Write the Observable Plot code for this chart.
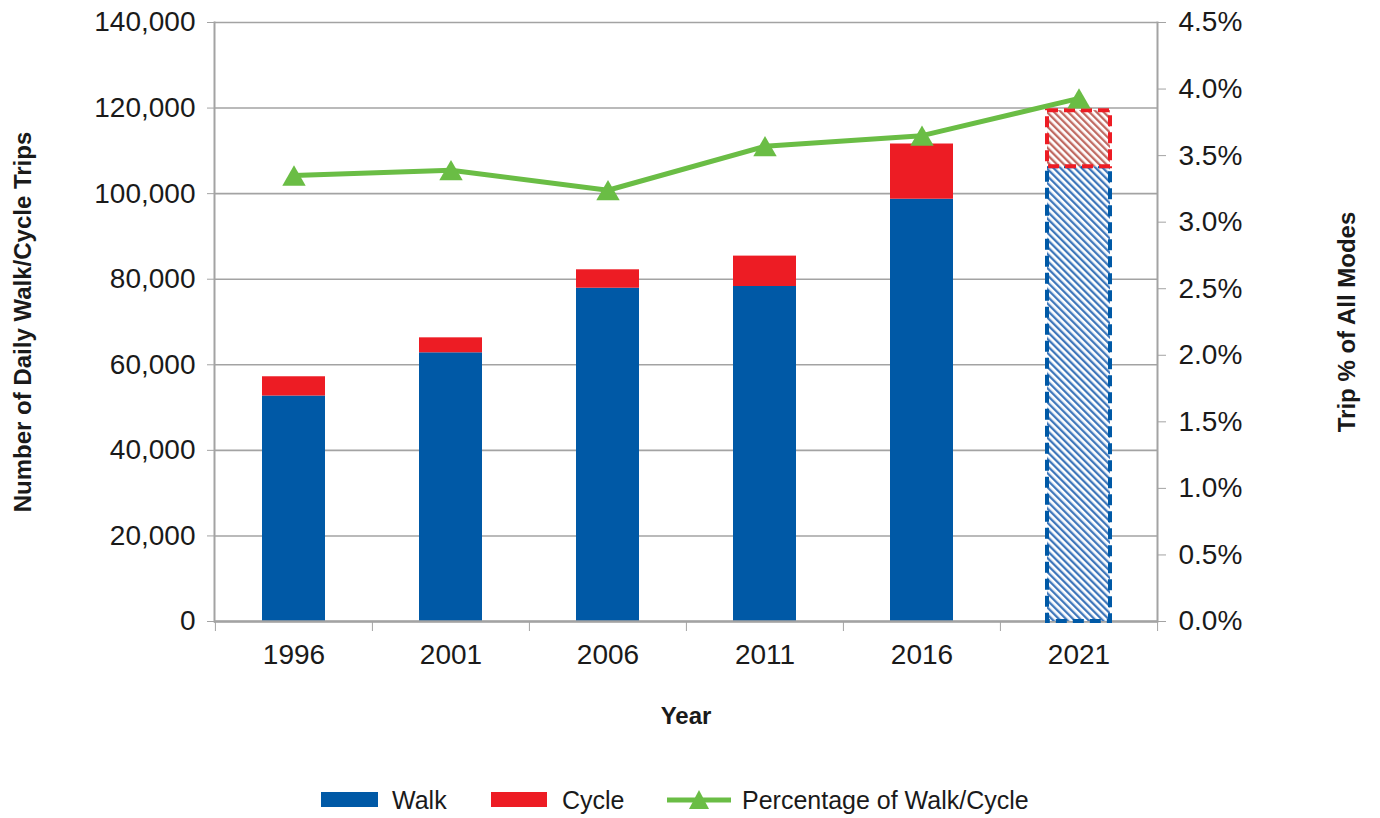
<!DOCTYPE html>
<html>
<head>
<meta charset="utf-8">
<script src="https://cdn.jsdelivr.net/npm/d3@7"></script>
<script src="https://cdn.jsdelivr.net/npm/@observablehq/plot@0.6"></script>
<style>
  body { margin: 0; background: #fff; font-family: "Liberation Sans", Arial, sans-serif; }
  #chart { position: relative; width: 1380px; height: 818px; overflow: hidden; }
  .legend { position: absolute; left: 0; top: 760px; width: 1380px; height: 58px; color: #1a1a1a; font-size: 25px; }
  .legend .item { position: absolute; top: 40px; line-height: 1; transform: translateY(-50%); white-space: nowrap; }
  .legend .sw { position: absolute; }
</style>
</head>
<body>
<div id="chart"></div>
<script>
// ---- data ----
const years = ["1996", "2001", "2006", "2011", "2016", "2021"];
const walkTrips = [52700, 62800, 77900, 78300, 98700, 106300];
const cycleTrips = [4500, 3500, 4300, 7100, 12900, 13100];
const pctShare = [3.35, 3.39, 3.24, 3.57, 3.65, 3.93];
const leftTicks = [0, 20000, 40000, 60000, 80000, 100000, 120000, 140000];
const rightTicks = [0, 0.5, 1.0, 1.5, 2.0, 2.5, 3.0, 3.5, 4.0, 4.5];
const projectedYear = "2021";
const seriesNames = ["Walk", "Cycle", "Percentage of Walk/Cycle"];
const leftTitle = "Number of Daily Walk/Cycle Trips";
const rightTitle = "Trip % of All Modes";
const xTitle = "Year";

// ---- styling ----
const BLUE = "#0059A6", RED = "#ED1C24", GREEN = "#6ABD45", GRID = "#a3a3a3", TEXT = "#1a1a1a";
const W = 1380, H = 760, mL = 214, mR = 223, mT = 22, mB = 139;
const yMax = leftTicks[leftTicks.length - 1], pMax = rightTicks[rightTicks.length - 1];
const k = yMax / pMax;
const step = (W - mL - mR) / years.length;

const rows = years.map((y, i) => ({
  year: y, walk: walkTrips[i], cycle: cycleTrips[i],
  total: walkTrips[i] + cycleTrips[i], pct: pctShare[i]
}));
const actual = rows.filter(d => d.year !== projectedYear);
const proj = rows.filter(d => d.year === projectedYear);

const svg = Plot.plot({
  width: W, height: H,
  marginLeft: mL, marginRight: mR, marginTop: mT, marginBottom: mB,
  style: { fontFamily: '"Liberation Sans", Arial, sans-serif', color: TEXT, background: "#fff" },
  x: { type: "band", domain: years, paddingInner: 0.6, paddingOuter: 0.3, label: null },
  y: { domain: [0, yMax], nice: false, label: null },
  marks: [
    Plot.gridY(leftTicks, { stroke: GRID, strokeOpacity: 1, strokeWidth: 1.6 }),
    Plot.barY(actual, { x: "year", y1: 0, y2: "walk", fill: BLUE }),
    Plot.barY(actual, { x: "year", y1: "walk", y2: "total", fill: RED }),
    Plot.ruleY([0], { stroke: GRID, strokeWidth: 2.5 }),
    Plot.barY(proj, { x: "year", y1: 0, y2: "walk", fill: "url(#hatchWalk)", stroke: BLUE, strokeWidth: 4, strokeDasharray: "11,6" }),
    Plot.barY(proj, { x: "year", y1: "walk", y2: "total", fill: "url(#hatchCycle)", stroke: RED, strokeWidth: 4, strokeDasharray: "11,6" }),
    Plot.frame({ anchor: "left", stroke: GRID, strokeWidth: 2 }),
    Plot.frame({ anchor: "right", stroke: GRID, strokeWidth: 2 }),
    Plot.axisY(leftTicks, { anchor: "left", tickSize: 7, tickPadding: 12, tickFormat: d3.format(","), fontSize: 28, stroke: GRID, fill: TEXT, label: null }),
    Plot.axisY(rightTicks.map(p => p * k), { anchor: "right", tickSize: 8, tickPadding: 13, tickFormat: d => (d / k).toFixed(1) + "%", fontSize: 28, stroke: GRID, fill: TEXT, label: null }),
    Plot.axisX({ tickSize: 0, tickPadding: 23, fontSize: 28, fill: TEXT, label: null }),
    Plot.axisX({ tickSize: 10, dx: -step / 2, tickFormat: () => "", stroke: GRID, label: null }),
    Plot.axisX([projectedYear], { tickSize: 10, dx: step / 2, tickFormat: () => "", stroke: GRID, label: null }),
    Plot.line(rows, { x: "year", y: d => d.pct * k, stroke: GREEN, strokeWidth: 5 }),
    Plot.dot(rows, { x: "year", y: d => d.pct * k, symbol: "triangle", r: 8.7, fill: GREEN, dy: 3.3 }),
    Plot.text([leftTitle], { frameAnchor: "left", dx: -(mL - 23), rotate: -90, textAnchor: "middle", lineAnchor: "middle", fontSize: 24, fontWeight: "bold", fill: TEXT }),
    Plot.text([rightTitle], { frameAnchor: "right", dx: 190, rotate: -90, textAnchor: "middle", lineAnchor: "middle", fontSize: 24, fontWeight: "bold", fill: TEXT }),
    Plot.text([xTitle], { frameAnchor: "bottom", dy: 95, textAnchor: "middle", lineAnchor: "middle", fontSize: 24, fontWeight: "bold", fill: TEXT })
  ]
});

const ns = "http://www.w3.org/2000/svg";
const defs = document.createElementNS(ns, "defs");
defs.innerHTML = `
  <pattern id="hatchWalk" patternUnits="userSpaceOnUse" width="5" height="5" patternTransform="rotate(-45)">
    <rect width="5" height="5" fill="#ffffff"/>
    <rect width="2.3" height="5" fill="#3f77bb"/>
  </pattern>
  <pattern id="hatchCycle" patternUnits="userSpaceOnUse" width="5" height="5" patternTransform="rotate(-45)">
    <rect width="5" height="5" fill="#ffffff"/>
    <rect width="2.3" height="5" fill="#c06a62"/>
  </pattern>`;
svg.insertBefore(defs, svg.firstChild);

const chart = document.getElementById("chart");
chart.appendChild(svg);

// ---- legend ----
const legend = document.createElement("div");
legend.className = "legend";
legend.innerHTML = `
  <div class="sw" style="left:321px;top:32px;width:57px;height:15px;background:${BLUE}"></div>
  <div class="item" style="left:392px;">${seriesNames[0]}</div>
  <div class="sw" style="left:491px;top:32px;width:56px;height:15px;background:${RED}"></div>
  <div class="item" style="left:562px;">${seriesNames[1]}</div>
  <svg class="sw" style="left:667px;top:27px" width="64" height="26">
    <line x1="0" y1="13" x2="64" y2="13" stroke="${GREEN}" stroke-width="5"/>
    <path d="M32,3 L42,22 L22,22 Z" fill="${GREEN}"/>
  </svg>
  <div class="item" style="left:742px;">${seriesNames[2]}</div>`;
chart.appendChild(legend);
</script>
</body>
</html>
